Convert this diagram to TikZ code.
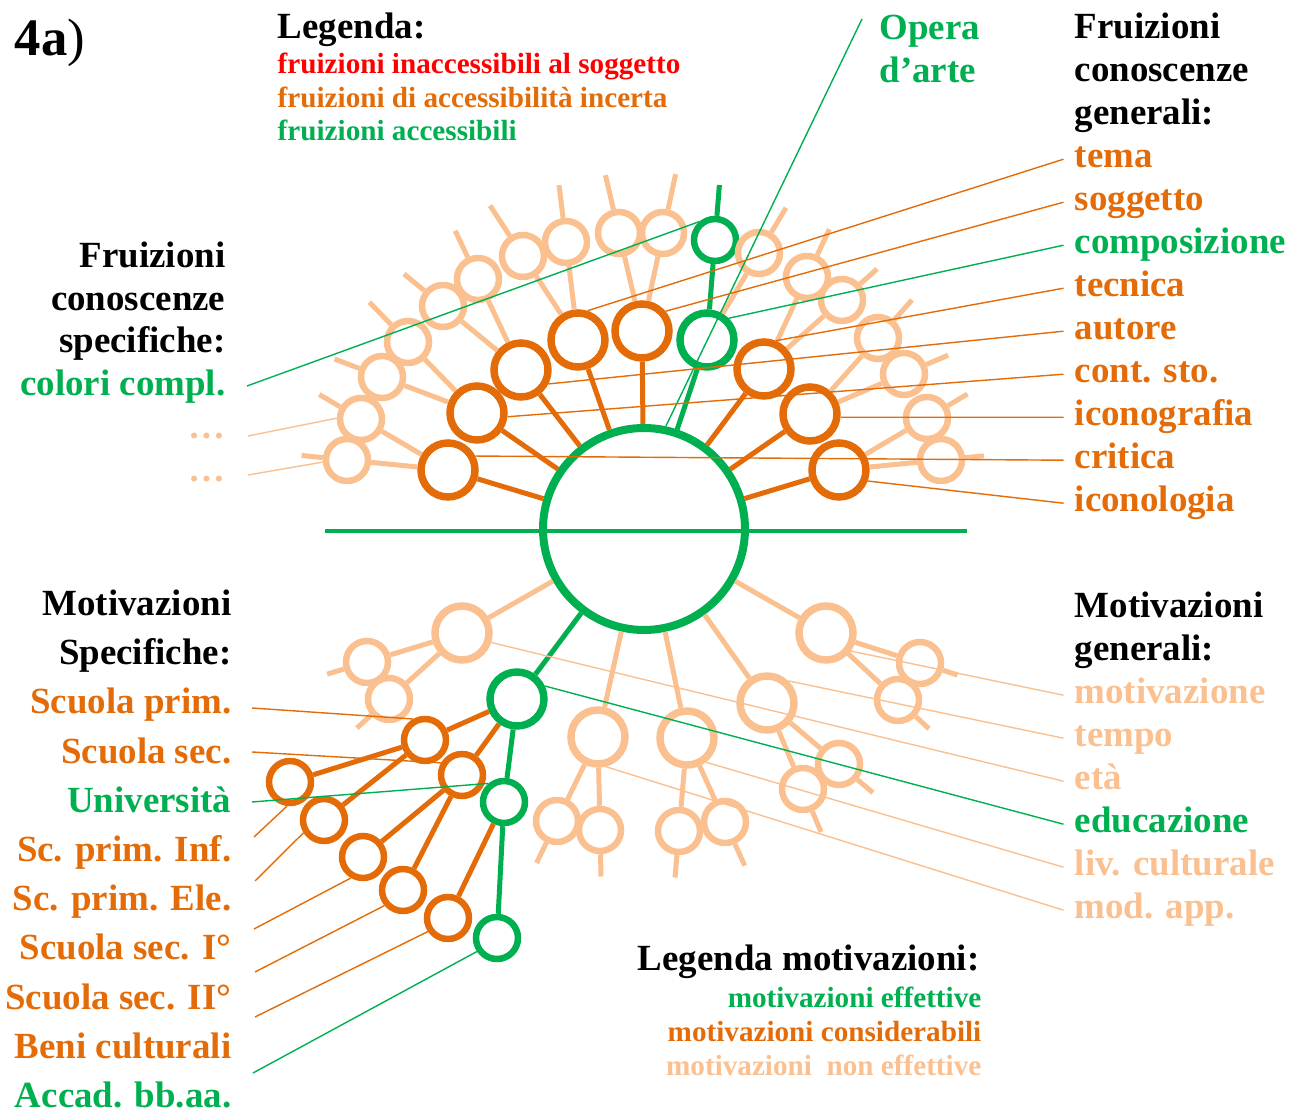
\documentclass[tikz,border=0pt]{standalone}
\usepackage{fontspec}
\setmainfont{Liberation Serif}
\usepackage{tikz}
\usetikzlibrary{calc}
\definecolor{verde}{HTML}{00B050}
\definecolor{arancio}{HTML}{E36C09}
\definecolor{pesca}{HTML}{FAC090}
\definecolor{rosso}{HTML}{FF0000}
\tikzset{
  every picture/.style={font=\bfseries},
  sole/.style={circle, draw=verde, line width=0.8mm, minimum size=20.2mm, inner sep=0pt},
  nodo/.style={circle, draw=#1, line width=0.75mm, minimum size=5.4mm, inner sep=0pt},
  foglia/.style={circle, draw=#1, line width=0.65mm, minimum size=4.2mm, inner sep=0pt},
  raggio/.style={line width=0.5mm},
  guida/.style={line width=0.4pt},
  et/.style={inner sep=0pt, font=\bfseries\fontsize{10.5pt}{12pt}\selectfont},
  etp/.style={inner sep=0pt, anchor=base west, font=\bfseries\fontsize{8.3pt}{10pt}\selectfont},
  etdx/.style={et, anchor=base west, inner xsep=3pt, text height=7pt, text depth=2pt},
  etsx/.style={et, anchor=base east},
}

\begin{document}
\begin{tikzpicture}[x=0.1mm, y=-0.1mm]
  \useasboundingbox (0,0) rectangle (1300,1111);

  % opera d'arte e linea orizzontale
  \node[sole] (opera) at (644,529) {};
  \coordinate (hL) at (325,531); \coordinate (hR) at (967,531);
  \draw[verde, line width=0.4mm] (hL) -- (hR);

  % fruizioni: primo anello
  \node[nodo=arancio] (fCrit) at (448,470) {};
  \node[nodo=arancio] (fCont) at (477,413) {};
  \node[nodo=arancio] (fAut) at (521,370) {};
  \node[nodo=arancio] (fTema) at (578,340) {};
  \node[nodo=arancio] (fSogg) at (642,331) {};
  \node[nodo=verde] (fComp) at (707,340) {};
  \node[nodo=arancio] (fTecn) at (764,369) {};
  \node[nodo=arancio] (fIconog) at (810,414) {};
  \node[nodo=arancio] (fIconol) at (839,470) {};
  \draw[raggio, arancio] (opera) -- (fCrit); \draw[raggio, arancio] (opera) -- (fCont);
  \draw[raggio, arancio] (opera) -- (fAut); \draw[raggio, arancio] (opera) -- (fTema);
  \draw[raggio, arancio] (opera) -- (fSogg); \draw[raggio, verde] (opera) -- (fComp);
  \draw[raggio, arancio] (opera) -- (fTecn); \draw[raggio, arancio] (opera) -- (fIconog);
  \draw[raggio, arancio] (opera) -- (fIconol);

  % fruizioni: secondo anello
  \node[foglia=pesca] (pA1) at (347,460) {}; \node[foglia=pesca] (pA2) at (361,419) {};
  \node[foglia=pesca] (pB1) at (382,377) {}; \node[foglia=pesca] (pB2) at (408,342) {};
  \node[foglia=pesca] (pC1) at (443,306) {}; \node[foglia=pesca] (pC2) at (478,279) {};
  \node[foglia=pesca] (pD1) at (523,256) {}; \node[foglia=pesca] (pD2) at (566,242) {};
  \node[foglia=pesca] (pE1) at (619,233) {}; \node[foglia=pesca] (pE2) at (663,233) {};
  \node[foglia=verde] (gColori) at (715,240) {}; \node[foglia=pesca] (pF) at (759,253) {};
  \node[foglia=pesca] (pG1) at (807,277) {}; \node[foglia=pesca] (pG2) at (842,300) {};
  \node[foglia=pesca] (pH1) at (878,338) {}; \node[foglia=pesca] (pH2) at (904,374) {};
  \node[foglia=pesca] (pI1) at (927,418) {}; \node[foglia=pesca] (pI2) at (941,460) {};
  \draw[raggio, pesca] (fCrit) -- (pA1); \draw[raggio, pesca] (pA1) -- ($(fCrit)!1.45!(pA1)$);
  \draw[raggio, pesca] (fCrit) -- (pA2); \draw[raggio, pesca] (pA2) -- ($(fCrit)!1.48!(pA2)$);
  \draw[raggio, pesca] (fCont) -- (pB1); \draw[raggio, pesca] (pB1) -- ($(fCont)!1.5!(pB1)$);
  \draw[raggio, pesca] (fCont) -- (pB2); \draw[raggio, pesca] (pB2) -- ($(fCont)!1.56!(pB2)$);
  \draw[raggio, pesca] (fAut) -- (pC1); \draw[raggio, pesca] (pC1) -- ($(fAut)!1.5!(pC1)$);
  \draw[raggio, pesca] (fAut) -- (pC2); \draw[raggio, pesca] (pC2) -- ($(fAut)!1.53!(pC2)$);
  \draw[raggio, pesca] (fTema) -- (pD1); \draw[raggio, pesca] (pD1) -- ($(fTema)!1.6!(pD1)$);
  \draw[raggio, pesca] (fTema) -- (pD2); \draw[raggio, pesca] (pD2) -- ($(fTema)!1.58!(pD2)$);
  \draw[raggio, pesca] (fSogg) -- (pE1); \draw[raggio, pesca] (pE1) -- ($(fSogg)!1.59!(pE1)$);
  \draw[raggio, pesca] (fSogg) -- (pE2); \draw[raggio, pesca] (pE2) -- ($(fSogg)!1.6!(pE2)$);
  \draw[raggio, verde] (fComp) -- (gColori); \draw[raggio, verde] (gColori) -- ($(fComp)!1.55!(gColori)$);
  \draw[raggio, pesca] (fComp) -- (pF); \draw[raggio, pesca] (pF) -- ($(fComp)!1.52!(pF)$);
  \draw[raggio, pesca] (fTecn) -- (pG1); \draw[raggio, pesca] (pG1) -- ($(fTecn)!1.52!(pG1)$);
  \draw[raggio, pesca] (fTecn) -- (pG2); \draw[raggio, pesca] (pG2) -- ($(fTecn)!1.45!(pG2)$);
  \draw[raggio, pesca] (fIconog) -- (pH1); \draw[raggio, pesca] (pH1) -- ($(fIconog)!1.5!(pH1)$);
  \draw[raggio, pesca] (fIconog) -- (pH2); \draw[raggio, pesca] (pH2) -- ($(fIconog)!1.47!(pH2)$);
  \draw[raggio, pesca] (fIconol) -- (pI1); \draw[raggio, pesca] (pI1) -- ($(fIconol)!1.46!(pI1)$);
  \draw[raggio, pesca] (fIconol) -- (pI2); \draw[raggio, pesca] (pI2) -- ($(fIconol)!1.42!(pI2)$);

  % motivazioni: primo livello
  \node[nodo=pesca] (mEta) at (462,633) {};
  \node[nodo=verde] (mEdu) at (517,699) {};
  \node[nodo=pesca] (mMod) at (598,737) {};
  \node[nodo=pesca] (mLiv) at (687,738) {};
  \node[nodo=pesca] (mTempo) at (767,703) {};
  \node[nodo=pesca] (mMotiv) at (826,633) {};
  \draw[raggio, pesca] (opera) -- (mEta); \draw[raggio, verde] (opera) -- (mEdu);
  \draw[raggio, pesca] (opera) -- (mMod); \draw[raggio, pesca] (opera) -- (mLiv);
  \draw[raggio, pesca] (opera) -- (mTempo); \draw[raggio, pesca] (opera) -- (mMotiv);

  % motivazioni specifiche
  \node[foglia=arancio] (oPrim) at (425,740) {};
  \node[foglia=arancio] (oSec) at (462,775) {};
  \node[foglia=verde] (gUni) at (504,802) {};
  \node[foglia=arancio] (oInf) at (290,782) {};
  \node[foglia=arancio] (oEle) at (324,820) {};
  \node[foglia=arancio] (oSecI) at (363,857) {};
  \node[foglia=arancio] (oSecII) at (403,890) {};
  \node[foglia=arancio] (oBeni) at (448,918) {};
  \node[foglia=verde] (gAcc) at (497,938) {};
  \draw[raggio, arancio] (mEdu) -- (oPrim); \draw[raggio, arancio] (mEdu) -- (oSec);
  \draw[raggio, verde] (mEdu) -- (gUni);
  \draw[raggio, arancio] (oPrim) -- (oInf); \draw[raggio, arancio] (oPrim) -- (oEle);
  \draw[raggio, arancio] (oSec) -- (oSecI); \draw[raggio, arancio] (oSec) -- (oSecII);
  \draw[raggio, arancio] (gUni) -- (oBeni); \draw[raggio, verde] (gUni) -- (gAcc);

  % motivazioni: secondo livello (non effettive)
  \node[foglia=pesca] (qA1) at (367,662) {}; \node[foglia=pesca] (qA2) at (389,699) {};
  \node[foglia=pesca] (qC1) at (557,821) {}; \node[foglia=pesca] (qC2) at (600,830) {};
  \node[foglia=pesca] (qD1) at (679,831) {}; \node[foglia=pesca] (qD2) at (725,822) {};
  \node[foglia=pesca] (qE1) at (803,789) {}; \node[foglia=pesca] (qE2) at (839,764) {};
  \node[foglia=pesca] (qF1) at (920,663) {}; \node[foglia=pesca] (qF2) at (898,700) {};
  \draw[raggio, pesca] (mEta) -- (qA1); \draw[raggio, pesca] (qA1) -- ($(mEta)!1.42!(qA1)$);
  \draw[raggio, pesca] (mEta) -- (qA2); \draw[raggio, pesca] (qA2) -- ($(mEta)!1.44!(qA2)$);
  \draw[raggio, pesca] (mMod) -- (qC1); \draw[raggio, pesca] (qC1) -- ($(mMod)!1.5!(qC1)$);
  \draw[raggio, pesca] (mMod) -- (qC2); \draw[raggio, pesca] (qC2) -- ($(mMod)!1.5!(qC2)$);
  \draw[raggio, pesca] (mLiv) -- (qD1); \draw[raggio, pesca] (qD1) -- ($(mLiv)!1.5!(qD1)$);
  \draw[raggio, pesca] (mLiv) -- (qD2); \draw[raggio, pesca] (qD2) -- ($(mLiv)!1.52!(qD2)$);
  \draw[raggio, pesca] (mTempo) -- (qE1); \draw[raggio, pesca] (qE1) -- ($(mTempo)!1.5!(qE1)$);
  \draw[raggio, pesca] (mTempo) -- (qE2); \draw[raggio, pesca] (qE2) -- ($(mTempo)!1.47!(qE2)$);
  \draw[raggio, pesca] (mMotiv) -- (qF1); \draw[raggio, pesca] (qF1) -- ($(mMotiv)!1.4!(qF1)$);
  \draw[raggio, pesca] (mMotiv) -- (qF2); \draw[raggio, pesca] (qF2) -- ($(mMotiv)!1.43!(qF2)$);

  % titolo e legende
  \node[et, anchor=base west, font=\bfseries\fontsize{15pt}{18pt}\selectfont] (titolo) at (14,56) {4a\textmd{)}};
  \node[et, anchor=base west] (leg) at (277,39) {Legenda:};
  \node[etp, text=rosso] (leg1) at (277,74) {fruizioni inaccessibili al soggetto};
  \node[etp, text=arancio] (leg2) at (277,108) {fruizioni di accessibilità incerta};
  \node[etp, text=verde] (leg3) at (277,141) {fruizioni accessibili};
  \node[et, anchor=base east] (legm) at (980,971) {Legenda motivazioni:};
  \node[etp, anchor=base east, text=verde] (legm1) at (982,1008) {motivazioni effettive};
  \node[etp, anchor=base east, text=arancio] (legm2) at (982,1042) {motivazioni considerabili};
  \node[etp, anchor=base east, text=pesca] (legm3) at (982,1076) {motivazioni~ non effettive};
  \node[et, anchor=base west, text=verde] (lOpera1) at (879,40) {Opera};
  \node[et, anchor=base west, text=verde] (lOpera2) at (879,83) {d’arte};

  % fruizioni conoscenze generali
  \node[etdx] (lFg1) at (1063.5,39) {Fruizioni};
  \node[etdx] (lFg2) at (1063.5,82) {conoscenze};
  \node[etdx] (lFg3) at (1063.5,125) {generali:};
  \node[etdx, text=arancio] (lTema) at (1063.5,168) {tema};
  \node[etdx, text=arancio] (lSogg) at (1063.5,211) {soggetto};
  \node[etdx, text=verde] (lComp) at (1063.5,254) {composizione};
  \node[etdx, text=arancio] (lTecn) at (1063.5,297) {tecnica};
  \node[etdx, text=arancio] (lAut) at (1063.5,340) {autore};
  \node[etdx, text=arancio] (lCont) at (1063.5,383) {cont. sto.};
  \node[etdx, text=arancio] (lIconog) at (1063.5,426) {iconografia};
  \node[etdx, text=arancio] (lCrit) at (1063.5,469) {critica};
  \node[etdx, text=arancio] (lIconol) at (1063.5,512) {iconologia};

  % fruizioni conoscenze specifiche
  \node[etsx] (lFs1) at (226,268) {Fruizioni};
  \node[etsx] (lFs2) at (226,311) {conoscenze};
  \node[etsx] (lFs3) at (226,353) {specifiche:};
  \node[etsx, text=verde] (lColori) at (226,396) {colori compl.};
  \node[etsx, text=pesca] (lPunti1) at (226,439) {…};
  \node[etsx, text=pesca] (lPunti2) at (226,482) {…};

  % motivazioni generali
  \node[etdx] (lMg1) at (1063.5,618) {Motivazioni};
  \node[etdx] (lMg2) at (1063.5,661) {generali:};
  \node[etdx, text=pesca] (lMotiv) at (1063.5,704) {motivazione};
  \node[etdx, text=pesca] (lTempo) at (1063.5,747) {tempo};
  \node[etdx, text=pesca] (lEta) at (1063.5,790) {età};
  \node[etdx, text=verde] (lEdu) at (1063.5,833) {educazione};
  \node[etdx, text=pesca] (lLiv) at (1063.5,876) {liv. culturale};
  \node[etdx, text=pesca] (lMod) at (1063.5,919) {mod. app.};

  % motivazioni specifiche
  \node[etsx] (lMs1) at (232,616) {Motivazioni};
  \node[etsx] (lMs2) at (232,665) {Specifiche:};
  \node[etsx, text=arancio] (lPrim) at (232,714) {Scuola prim.};
  \node[etsx, text=arancio] (lSec) at (232,764) {Scuola sec.};
  \node[etsx, text=verde] (lUni) at (232,813) {Università};
  \node[etsx, text=arancio] (lInf) at (232,862) {Sc. prim. Inf.};
  \node[etsx, text=arancio] (lEle) at (232,911) {Sc. prim. Ele.};
  \node[etsx, text=arancio] (lSecI) at (232,960) {Scuola sec. I°};
  \node[etsx, text=arancio] (lSecII) at (232,1010) {Scuola sec. II°};
  \node[etsx, text=arancio] (lBeni) at (232,1059) {Beni culturali};
  \node[etsx, text=verde] (lAcc) at (232,1108) {Accad. bb.aa.};

  % linee guida
  \coordinate (cOpera) at (862,19);
  \coordinate (cColori) at (247,386); \coordinate (cPunti1) at (248,436); \coordinate (cPunti2) at (248,475);
  \coordinate (cPrim) at (252,708); \coordinate (cSec) at (252,752); \coordinate (cUni) at (252,802);
  \coordinate (cInf) at (254,837); \coordinate (cEle) at (255,881); \coordinate (cSecI) at (254,929);
  \coordinate (cSecII) at (255,972); \coordinate (cBeni) at (255,1017); \coordinate (cAcc) at (253,1073);
  \draw[guida, verde] (cOpera) -- (opera.78);
  \draw[guida, arancio] (lTema.west) -- (fTema.72);
  \draw[guida, arancio] (lSogg.west) -- (fSogg.40);
  \draw[guida, verde] (lComp.west) -- (fComp.45);
  \draw[guida, arancio] (lTecn.west) -- (fTecn.67);
  \draw[guida, arancio] (lAut.west) -- (fAut.-27);
  \draw[guida, arancio] (lCont.west) -- (fCont.-7);
  \draw[guida, arancio] (lIconog.west) -- (fIconog.-6);
  \draw[guida, arancio] (lCrit.west) -- (fCrit.27);
  \draw[guida, arancio] (lIconol.west) -- (fIconol.-21);
  \draw[guida, verde] (cColori) -- (gColori.131);
  \draw[guida, pesca] (cPunti1) -- (pA2.178);
  \draw[guida, pesca] (cPunti2) -- (pA1.185);
  \draw[guida, pesca] (lMotiv.west) -- (mMotiv.-36);
  \draw[guida, pesca] (lTempo.west) -- (mTempo.46);
  \draw[guida, pesca] (lEta.west) -- (mEta.-18);
  \draw[guida, verde] (lEdu.west) -- (mEdu.25);
  \draw[guida, pesca] (lLiv.west) -- (mLiv.-52);
  \draw[guida, pesca] (lMod.west) -- (mMod.-75);
  \draw[guida, arancio] (cPrim) -- (oPrim.120);
  \draw[guida, arancio] (cSec) -- (oSec.150);
  \draw[guida, verde] (cUni) -- (gUni.130);
  \draw[guida, arancio] (cInf) -- (oInf.263);
  \draw[guida, arancio] (cEle) -- (oEle.212);
  \draw[guida, arancio] (cSecI) -- (oSecI.240);
  \draw[guida, arancio] (cSecII) -- (oSecII.220);
  \draw[guida, arancio] (cBeni) -- (oBeni.214);
  \draw[guida, verde] (cAcc) -- (gAcc.214);
\end{tikzpicture}
\end{document}
